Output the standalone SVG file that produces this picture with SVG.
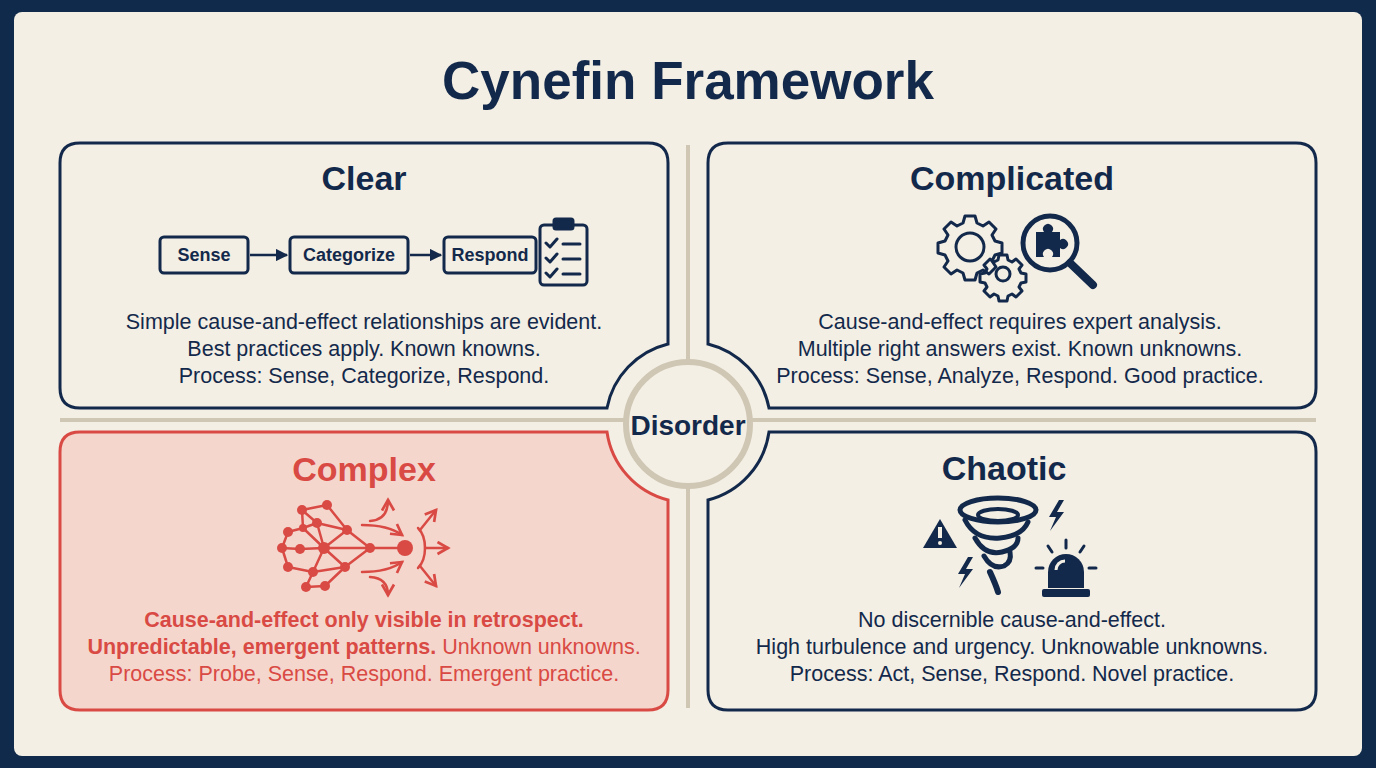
<svg xmlns="http://www.w3.org/2000/svg" width="1376" height="768" viewBox="0 0 1376 768">
<style>
.t{font-family:"Liberation Sans",Arial,sans-serif;fill:#13294b;text-anchor:middle}
.h{font-weight:bold;font-size:34px}
.b{font-size:21.5px}
.box{fill:none;stroke:#13294b;stroke-width:3}
.ic{fill:none;stroke:#13294b;stroke-width:3;stroke-linejoin:round;stroke-linecap:round}
.r{fill:#d94a44;stroke:none}
.rl{stroke:#d94a44;stroke-width:2.5;fill:none;stroke-linecap:round;stroke-linejoin:round}
.n{fill:#13294b}
</style>
<defs>
<marker id="ar" viewBox="0 0 10 10" refX="9" refY="5" markerWidth="5" markerHeight="5" orient="auto"><path d="M0,0L10,5L0,10z" fill="#13294b"/></marker>
<marker id="rar" viewBox="0 0 10 10" refX="8" refY="5" markerWidth="6" markerHeight="6" orient="auto"><path d="M1,1L8,5L1,9" fill="none" stroke="#d94a44" stroke-width="1.8"/></marker>
</defs>
<rect width="1376" height="768" fill="#0f2a4a"/>
<rect x="14" y="12" width="1348" height="744" rx="8" fill="#f3efe4"/>
<text class="t" x="688" y="99" font-size="53" font-weight="bold">Cynefin Framework</text>
<g id="dividers" stroke="#cfc6b4" stroke-width="4">
<line x1="688" y1="145" x2="688" y2="708"/>
<line x1="60" y1="420" x2="1316" y2="420"/>
</g>
<g id="clear">
<path class="box" d="M80,143H648Q668,143 668,163V344A82,82 0 0 0 607,408H80Q60,408 60,388V163Q60,143 80,143Z"/>
<text class="t h" x="364" y="190">Clear</text>
<g class="t" font-size="18" font-weight="bold">
<rect class="box" x="160" y="237" width="88" height="36" rx="4" stroke-width="2.5"/><text x="204" y="261">Sense</text>
<rect class="box" x="290" y="237" width="118" height="36" rx="4" stroke-width="2.5"/><text x="349" y="261">Categorize</text>
<rect class="box" x="444" y="237" width="92" height="36" rx="4" stroke-width="2.5"/><text x="490" y="261">Respond</text>
</g>
<line x1="250" y1="255" x2="287" y2="255" stroke="#13294b" stroke-width="2.5" marker-end="url(#ar)"/>
<line x1="410" y1="255" x2="441" y2="255" stroke="#13294b" stroke-width="2.5" marker-end="url(#ar)"/>
<g class="ic" stroke-width="2.5">
<rect x="540" y="225" width="47" height="60" rx="4"/>
<rect x="554" y="219" width="19" height="10" rx="2" class="n"/>
<path d="M546,243l4,4 7,-8M546,258l4,4 7,-8M546,273l4,4 7,-8M563,244h17M563,259h17M563,274h17"/>
</g>
<text class="t b" x="364" y="329">Simple cause-and-effect relationships are evident.</text>
<text class="t b" x="364" y="356">Best practices apply. Known knowns.</text>
<text class="t b" x="364" y="383">Process: Sense, Categorize, Respond.</text>
</g>
<g id="complicated">
<path class="box" d="M1296,143H728Q708,143 708,163V344A82,82 0 0 1 769,408H1296Q1316,408 1316,388V163Q1316,143 1296,143Z"/>
<text class="t h" x="1012" y="190">Complicated</text>
<g class="ic" stroke-width="2.5">
<circle cx="970" cy="247" r="14"/>
<path d="M965,216h10l2,7 6,3 6,-4 7,7 -4,6 3,6 7,2v10l-7,2 -3,6 4,6 -7,7 -6,-4 -6,3 -2,7h-10l-2,-7 -6,-3 -6,4 -7,-7 4,-6 -3,-6 -7,-2v-10l7,-2 3,-6 -4,-6 7,-7 6,4 6,-3z"/>
<circle cx="1003" cy="274" r="7"/>
<path d="M999,255h8l1,5 4,2 4,-3 6,6 -3,4 2,4 5,1v8l-5,1 -2,4 3,4 -6,6 -4,-3 -4,2 -1,5h-8l-1,-5 -4,-2 -4,3 -6,-6 3,-4 -2,-4 -5,-1v-8l5,-1 2,-4 -3,-4 6,-6 4,3 4,-2z"/>
</g>
<circle cx="1050" cy="243" r="27" fill="none" stroke="#13294b" stroke-width="5"/>
<line x1="1070" y1="263" x2="1093" y2="285" stroke="#13294b" stroke-width="8" stroke-linecap="round"/>
<path class="n" d="M1036,232h8a5,5 0 1 1 8,0h8v8a5,5 0 1 1 0,8v9h-8a5,5 0 1 0 -8,0h-8z"/>
<text class="t b" x="1020" y="329">Cause-and-effect requires expert analysis.</text>
<text class="t b" x="1020" y="356">Multiple right answers exist. Known unknowns.</text>
<text class="t b" x="1020" y="383">Process: Sense, Analyze, Respond. Good practice.</text>
</g>
<g id="complex">
<path d="M80,432H607A82,82 0 0 0 668,500V690Q668,710 648,710H80Q60,710 60,690V452Q60,432 80,432Z" fill="#f5d6cd" stroke="#d94a44" stroke-width="3"/>
<text class="t h" x="364" y="481" style="fill:#d94a44">Complex</text>
<g class="rl">
<path d="M302,510L327,505M302,510L317,523M317,523L347,530M327,505L347,530M288,532L303,528M288,532L282,548M303,528L302,510M303,528L317,523M303,528L324,548M282,548L300,549M300,549L324,548M282,548L288,567M288,567L313,572M313,572L324,548M324,548L317,523M324,548L347,530M324,548L345,567M324,548L370,548M345,567L313,572M345,567L370,548M347,530L370,548M313,572L306,587M306,587L325,586M325,586L345,567M370,548L405,548"/>
<path d="M370,521Q388,520 388,500" marker-end="url(#rar)"/>
<path d="M362,525Q388,525 402,535" marker-end="url(#rar)"/>
<path d="M362,572Q388,572 402,562" marker-end="url(#rar)"/>
<path d="M370,577Q388,578 388,595" marker-end="url(#rar)"/>
<path d="M418,528Q425,535 425,548Q425,561 418,568"/>
<path d="M425,548L448,548" marker-end="url(#rar)"/>
<path d="M420,530L436,510" marker-end="url(#rar)"/>
<path d="M420,566L436,586" marker-end="url(#rar)"/>
</g>
<g class="r">
<circle cx="302" cy="510" r="5"/><circle cx="327" cy="505" r="5"/><circle cx="317" cy="523" r="5"/><circle cx="347" cy="530" r="5"/>
<circle cx="288" cy="532" r="5"/><circle cx="303" cy="528" r="4"/><circle cx="282" cy="548" r="5"/><circle cx="300" cy="549" r="5"/>
<circle cx="324" cy="548" r="6"/><circle cx="288" cy="567" r="5"/><circle cx="313" cy="572" r="5"/><circle cx="345" cy="567" r="5"/>
<circle cx="306" cy="587" r="5"/><circle cx="325" cy="586" r="5"/><circle cx="370" cy="548" r="5"/><circle cx="405" cy="548" r="8"/>
</g>
<g class="t b" style="fill:#d94a44">
<text x="364" y="627" font-weight="bold">Cause-and-effect only visible in retrospect.</text>
<text x="364" y="654"><tspan font-weight="bold">Unpredictable, emergent patterns.</tspan> Unknown unknowns.</text>
<text x="364" y="681">Process: Probe, Sense, Respond. Emergent practice.</text>
</g>
</g>
<g id="chaotic">
<path class="box" d="M1296,432H769A82,82 0 0 1 708,500V690Q708,710 728,710H1296Q1316,710 1316,690V452Q1316,432 1296,432Z"/>
<text class="t h" x="1004" y="480">Chaotic</text>
<path class="n" d="M940,519L957,548H923Z"/>
<rect x="938" y="527" width="4" height="11" fill="#f3efe4"/><circle cx="940" cy="543" r="2" fill="#f3efe4"/>
<g fill="none" stroke="#13294b" stroke-linecap="round">
<ellipse cx="998" cy="510" rx="38" ry="12" stroke-width="5"/>
<ellipse cx="998" cy="515" rx="20" ry="6" stroke-width="4"/>
<path d="M965,520Q975,540 1000,538Q1022,536 1028,522" stroke-width="5"/>
<path d="M975,538Q985,556 1002,552Q1018,548 1018,538" stroke-width="5"/>
<path d="M984,556Q992,570 1004,566Q1012,562 1010,552" stroke-width="5"/>
<path d="M990,572Q996,585 998,592" stroke-width="6"/>
</g>
<path class="n" d="M1059,500l-10,17h7l-6,14 14,-19h-7l7,-12z"/>
<path class="n" d="M968,557l-10,17h7l-6,14 14,-19h-7l7,-12z"/>
<path class="n" d="M1048,588v-16a18,18 0 0 1 36,0v16z"/>
<rect class="n" x="1042" y="589" width="48" height="8" rx="2"/>
<path d="M1056,570a9,9 0 0 1 9,-9" stroke="#f3efe4" stroke-width="3" fill="none"/>
<g stroke="#13294b" stroke-width="3" stroke-linecap="round"><path d="M1066,540v8M1048,546l4,6M1084,546l-4,6M1036,568h7M1089,568h7"/></g>
<text class="t b" x="1012" y="627">No discernible cause-and-effect.</text>
<text class="t b" x="1012" y="654">High turbulence and urgency. Unknowable unknowns.</text>
<text class="t b" x="1012" y="681">Process: Act, Sense, Respond. Novel practice.</text>
</g>
<g id="disorder">
<circle cx="688" cy="424" r="62" fill="#f3efe4" stroke="#cfc6b4" stroke-width="6"/>
<text class="t" x="688" y="435" font-size="28" font-weight="bold">Disorder</text>
</g>
</svg>
